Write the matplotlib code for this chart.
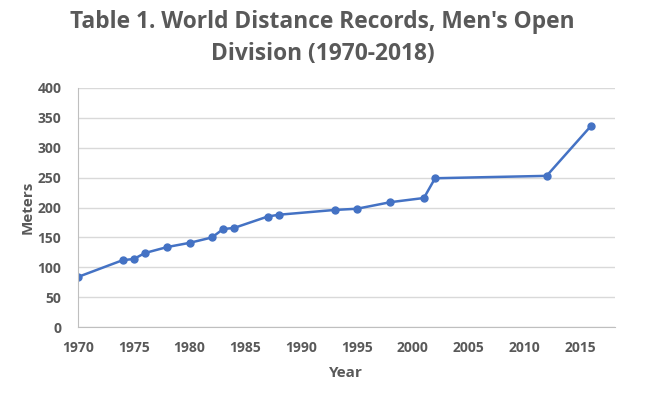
import matplotlib.pyplot as plt

years = [1970, 1974, 1975, 1976, 1978, 1980, 1982, 1983, 1984, 1987,
         1988, 1993, 1995, 1998, 2001, 2002, 2012, 2016]
meters = [84, 112, 114, 124, 134, 141, 150, 164, 166, 185,
          188, 196, 198, 209, 216, 249, 253, 337]
xticks = [1970, 1975, 1980, 1985, 1990, 1995, 2000, 2005, 2010, 2015]
yticks = [0, 50, 100, 150, 200, 250, 300, 350, 400]

grey = "#595959"
plt.rcParams['font.family'] = ['Open Sans', 'DejaVu Sans']

fig = plt.figure(figsize=(6.45, 3.98), dpi=100)
ax = fig.add_axes([0.121, 0.178, 0.832, 0.601])

ax.plot(years, meters, color="#4472C4", lw=1.8, marker="o", ms=5)

ax.set_xlim(1970, 2018.1)
ax.set_ylim(0, 400)
ax.set_xticks(xticks)
ax.set_yticks(yticks)
ax.yaxis.grid(True, color="#D9D9D9", lw=1)
ax.set_axisbelow(True)
for s in ["top", "right"]:
    ax.spines[s].set_visible(False)
ax.spines["left"].set_color("#BFBFBF")
ax.spines["bottom"].set_color("#BFBFBF")
ax.tick_params(length=0, labelsize=10, labelcolor=grey)
ax.tick_params(axis="x", pad=10)
ax.tick_params(axis="y", pad=12)
for lab in ax.get_xticklabels() + ax.get_yticklabels():
    lab.set_fontweight("bold")

ax.set_xlabel("Year", fontsize=11, fontweight="bold", color=grey, labelpad=8)
ax.set_ylabel("Meters", fontsize=11, fontweight="bold", color=grey, labelpad=2)

fig.suptitle("Table 1. World Distance Records, Men's Open\nDivision (1970-2018)",
             x=0.5, y=0.975, fontsize=16.4, fontweight="bold", color=grey,
             linespacing=1.45)

fig.savefig("out.png", dpi=100)
